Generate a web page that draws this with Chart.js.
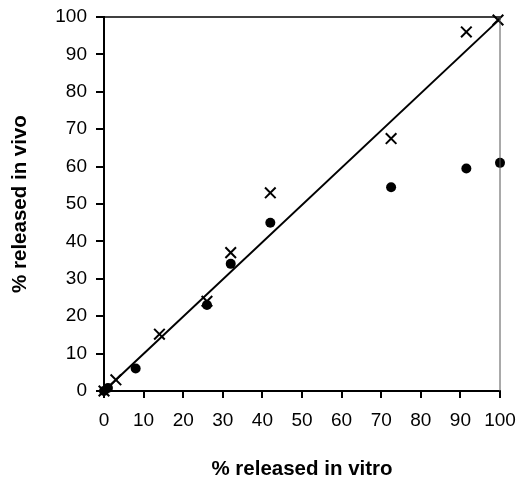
<!DOCTYPE html>
<html>
<head>
<meta charset="utf-8">
<script src="https://cdn.jsdelivr.net/npm/chart.js@4/dist/chart.umd.min.js"></script>
<style>
  html, body { margin: 0; padding: 0; background: #fff; }
  #wrap { width: 521px; height: 482px; }
</style>
</head>
<body>
<div id="wrap"><canvas id="chart" width="521" height="482"></canvas></div>
<script>
// % released in vitro (x) vs % released in vivo (y)
const dotX = [0, 1, 8, 26, 32, 42, 72.5, 91.5, 100];
const dotY = [0, 0.8, 6, 23, 34, 45, 54.5, 59.5, 61];
const crossX = [0, 3, 14, 26, 32, 42, 72.5, 91.5, 99.5];
const crossY = [0, 3, 15.2, 24, 37, 53, 67.5, 96, 99.2];
const lineX = [0, 100];
const lineY = [0, 99.5];
const tickValues = [0, 10, 20, 30, 40, 50, 60, 70, 80, 90, 100];

const toPoints = (xs, ys) => xs.map((x, i) => ({ x: x, y: ys[i] }));

const frame = {
  id: 'frame',
  afterDraw: (chart) => {
    const { ctx, chartArea } = chart;
    ctx.save();
    ctx.strokeStyle = '#000';
    ctx.lineWidth = 1.5;
    ctx.beginPath();
    ctx.moveTo(chartArea.left, chartArea.top);
    ctx.lineTo(chartArea.right, chartArea.top);
    ctx.stroke();
    ctx.strokeStyle = '#555';
    ctx.lineWidth = 1;
    ctx.beginPath();
    ctx.moveTo(chartArea.right, chartArea.top);
    ctx.lineTo(chartArea.right, chartArea.bottom);
    ctx.stroke();
    ctx.restore();
  },
};

const tickFont = { family: '"Liberation Sans", Arial, sans-serif', size: 19 };
const titleFont = { family: '"Liberation Sans", Arial, sans-serif', size: 20.5, weight: 'bold' };

new Chart(document.getElementById('chart').getContext('2d'), {
  type: 'scatter',
  data: {
    datasets: [
      {
        type: 'line',
        data: toPoints(lineX, lineY),
        borderColor: '#000',
        borderWidth: 2,
        pointRadius: 0,
        clip: false,
      },
      {
        data: toPoints(dotX, dotY),
        pointStyle: 'circle',
        pointRadius: 5,
        backgroundColor: '#000',
        borderColor: '#000',
        borderWidth: 0,
        clip: false,
      },
      {
        data: toPoints(crossX, crossY),
        pointStyle: 'crossRot',
        pointRadius: 7.5,
        borderColor: '#000',
        borderWidth: 2,
        clip: false,
      },
    ],
  },
  options: {
    responsive: false,
    animation: false,
    plugins: {
      legend: { display: false },
      tooltip: { enabled: false },
    },
    layout: {
      padding: { top: 17, right: 21, left: 0, bottom: 0 },
    },
    scales: {
      x: {
        type: 'linear',
        min: 0,
        max: 100,
        afterBuildTicks: (scale) => {
          scale.ticks = tickValues.map((v) => ({ value: v }));
        },
        afterFit: (scale) => {
          scale.height = 91;
          scale.paddingLeft = 0;
          scale.paddingRight = 0;
        },
        ticks: { color: '#000', font: tickFont, padding: 11, maxRotation: 0 },
        grid: { display: true, drawOnChartArea: false, drawTicks: true, tickLength: 7, color: '#000', lineWidth: 2 },
        border: { color: '#000', width: 2 },
        title: { display: true, text: '% released in vitro', color: '#000', font: titleFont, padding: { top: 0, bottom: 0 } },
      },
      y: {
        type: 'linear',
        min: 0,
        max: 100,
        afterBuildTicks: (scale) => {
          scale.ticks = tickValues.map((v) => ({ value: v }));
        },
        afterFit: (scale) => {
          scale.width = 104;
          scale.paddingTop = 0;
          scale.paddingBottom = 0;
        },
        ticks: { color: '#000', font: tickFont, padding: 9 },
        grid: { display: true, drawOnChartArea: false, drawTicks: true, tickLength: 8, color: '#000', lineWidth: 2 },
        border: { color: '#000', width: 2 },
        title: { display: true, text: '% released in vivo', color: '#000', font: titleFont, padding: { top: 8, bottom: 0 } },
      },
    },
  },
  plugins: [frame],
});
</script>
</body>
</html>
